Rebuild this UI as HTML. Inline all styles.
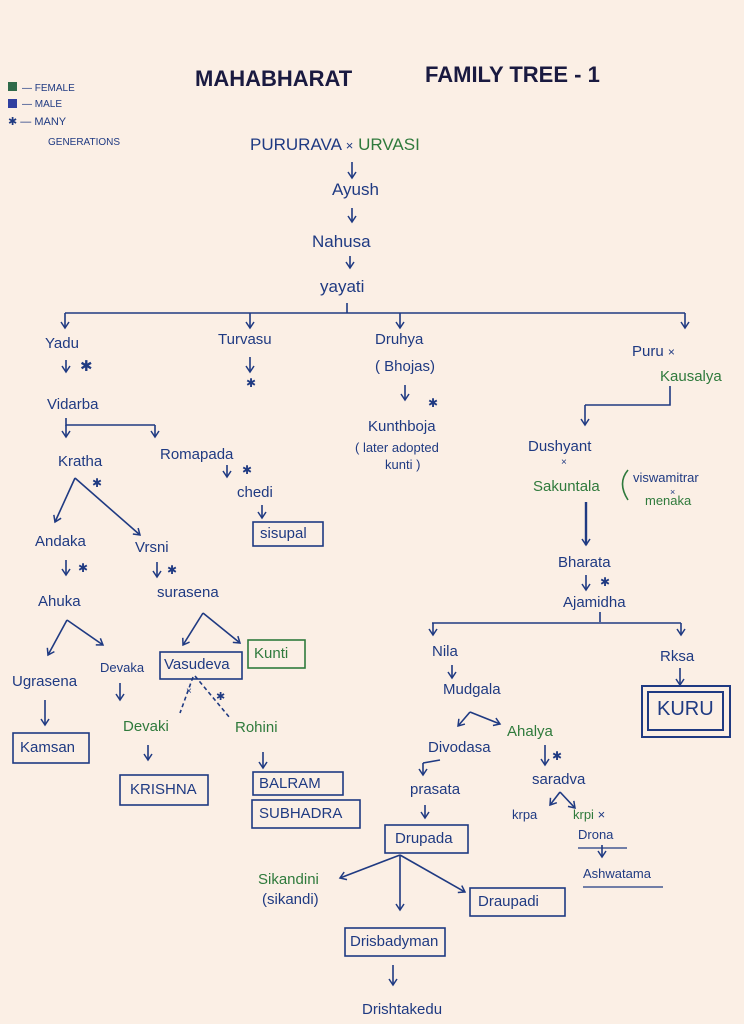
<!DOCTYPE html>
<html><head><meta charset="utf-8"><style>
html,body{margin:0;padding:0}
body{width:744px;height:1024px;background:#fbefe5;position:relative;overflow:hidden;font-family:"Liberation Sans",sans-serif;color:#1f3a82}
.t{position:absolute;white-space:nowrap;font-size:15px;line-height:18px}
.g{color:#2f7a3c}
svg{position:absolute;left:0;top:0}
</style></head><body>
<svg width="744" height="1024" fill="none" stroke="#1f3a82" stroke-width="1.6">
<defs><marker id="a" markerWidth="10" markerHeight="10" refX="7" refY="5" orient="auto" markerUnits="userSpaceOnUse"><path d="M1,1 L7,5 L1,9" stroke="#1f3a82" fill="none" stroke-width="1.5"/></marker></defs>
<rect x="8" y="82" width="9" height="9" fill="#2f6a4a" stroke="none"/>
<rect x="8" y="99" width="9" height="9" fill="#3040a0" stroke="none"/>
<g marker-end="url(#a)">
<path d="M352 162V178"/><path d="M352 208V222"/><path d="M350 256V268"/>
<path d="M65 313V328"/><path d="M250 313V328"/><path d="M400 313V328"/><path d="M685 313V328"/>
<path d="M66 425V437"/><path d="M155 425V437"/>
<path d="M262 505V518"/><path d="M250 357V372"/><path d="M405 385V400"/><path d="M66 360V372"/><path d="M227 465V477"/>
<path d="M585 405V425"/>
<path d="M586 502V545"/>
<path d="M433 623V635"/><path d="M681 623V635"/>
<path d="M452 665V678"/><path d="M680 668V685"/><path d="M602 845V857"/><path d="M425 805V818"/><path d="M393 965V985"/><path d="M120 683V700"/><path d="M148 745V760"/><path d="M263 752V768"/><path d="M45 700V725"/><path d="M66 560V575"/><path d="M157 562V577"/><path d="M586 575V590"/>
<path d="M470 712L458 726"/><path d="M470 712L500 724"/>
<path d="M423 763V775"/>
<path d="M545 745V765"/><path d="M560 792L550 805"/><path d="M560 792L575 808"/>
<path d="M75 478L55 522"/><path d="M75 478L140 535"/>
<path d="M67 620L48 655"/><path d="M67 620L103 645"/>
<path d="M203 613L183 645"/><path d="M203 613L240 643"/>
<path d="M400 855L340 878"/><path d="M400 855V910"/><path d="M400 855L465 892"/>
</g>
<path d="M65 313H685M347 303V313M66 418V425H155M670 386V405H585M586 502V545M600 612V622M432 623H681M440 760L423 763"/>
<path d="M586 502V545" stroke-width="2.4"/>
<path d="M193 677L180 713M195 676L230 718" stroke-dasharray="4 3"/>
<path d="M578 848H627M583 887H663" stroke-width="1.3"/>
<rect x="253" y="522" width="70" height="24"/>
<rect x="13" y="733" width="76" height="30"/>
<rect x="120" y="775" width="88" height="30"/>
<rect x="160" y="652" width="82" height="27"/>
<rect x="248" y="640" width="57" height="28" stroke="#2f7a3c"/>
<rect x="253" y="772" width="90" height="23"/>
<rect x="252" y="800" width="108" height="28"/>
<rect x="385" y="825" width="83" height="28"/>
<rect x="470" y="888" width="95" height="28"/>
<rect x="345" y="928" width="100" height="28"/>
<rect x="642" y="686" width="88" height="51" stroke-width="2"/>
<rect x="648" y="692" width="75" height="38" stroke-width="2"/>
<path d="M628 470Q617 483 628 500" stroke="#2f7a3c"/>
</svg>
<div class="t" style="left:22px;top:80px;font-size:10px">— FEMALE</div>
<div class="t" style="left:22px;top:96px;font-size:10px">— MALE</div>
<div class="t" style="left:8px;top:113px;font-size:11px">✱ — MANY</div>
<div class="t" style="left:48px;top:134px;font-size:10px">GENERATIONS</div>
<div class="t" style="left:195px;top:70px;font-size:22px;font-weight:bold;color:#1a1a40">MAHABHARAT</div>
<div class="t" style="left:425px;top:66px;font-size:22px;font-weight:bold;color:#1a1a40">FAMILY TREE - 1</div>
<div class="t" style="left:250px;top:136px;font-size:17px">PURURAVA <span style="font-size:13px">×</span> <span class="g">URVASI</span></div>
<div class="t" style="left:332px;top:181px;font-size:17px">Ayush</div>
<div class="t" style="left:312px;top:233px;font-size:17px">Nahusa</div>
<div class="t" style="left:320px;top:278px;font-size:17px">yayati</div>
<div class="t" style="left:45px;top:335px">Yadu</div>
<div class="t" style="left:80px;top:358px">✱</div>
<div class="t" style="left:47px;top:396px">Vidarba</div>
<div class="t" style="left:58px;top:453px">Kratha</div>
<div class="t" style="left:92px;top:474px;font-size:12px">✱</div>
<div class="t" style="left:160px;top:446px">Romapada</div>
<div class="t" style="left:242px;top:461px;font-size:12px">✱</div>
<div class="t" style="left:237px;top:484px">chedi</div>
<div class="t" style="left:260px;top:525px">sisupal</div>
<div class="t" style="left:218px;top:331px">Turvasu</div>
<div class="t" style="left:246px;top:374px;font-size:12px">✱</div>
<div class="t" style="left:375px;top:331px">Druhya</div>
<div class="t" style="left:375px;top:358px">( Bhojas)</div>
<div class="t" style="left:428px;top:394px;font-size:12px">✱</div>
<div class="t" style="left:368px;top:418px">Kunthboja</div>
<div class="t" style="left:355px;top:439px;font-size:13px">( later adopted</div>
<div class="t" style="left:385px;top:456px;font-size:13px">kunti )</div>
<div class="t" style="left:632px;top:343px">Puru <span style="font-size:12px">×</span></div>
<div class="t g" style="left:660px;top:368px">Kausalya</div>
<div class="t" style="left:528px;top:438px">Dushyant</div>
<div class="t" style="left:561px;top:454px;font-size:10px">×</div>
<div class="t g" style="left:533px;top:478px">Sakuntala</div>
<div class="t" style="left:633px;top:469px;font-size:13px">viswamitrar</div>
<div class="t" style="left:670px;top:483px;font-size:9px">×</div>
<div class="t g" style="left:645px;top:492px;font-size:13px">menaka</div>
<div class="t" style="left:558px;top:554px">Bharata</div>
<div class="t" style="left:600px;top:573px;font-size:12px">✱</div>
<div class="t" style="left:563px;top:594px">Ajamidha</div>
<div class="t" style="left:432px;top:643px">Nila</div>
<div class="t" style="left:443px;top:681px">Mudgala</div>
<div class="t g" style="left:507px;top:723px">Ahalya</div>
<div class="t" style="left:428px;top:739px">Divodasa</div>
<div class="t" style="left:552px;top:747px;font-size:12px">✱</div>
<div class="t" style="left:532px;top:771px">saradva</div>
<div class="t" style="left:410px;top:781px">prasata</div>
<div class="t" style="left:512px;top:806px;font-size:13px">krpa</div>
<div class="t" style="left:573px;top:806px;font-size:13px"><span class="g">krpi</span> ×</div>
<div class="t" style="left:578px;top:826px;font-size:13px">Drona</div>
<div class="t" style="left:583px;top:865px;font-size:13px">Ashwatama</div>
<div class="t" style="left:395px;top:830px">Drupada</div>
<div class="t g" style="left:258px;top:871px">Sikandini</div>
<div class="t" style="left:262px;top:891px">(sikandi)</div>
<div class="t" style="left:478px;top:893px">Draupadi</div>
<div class="t" style="left:350px;top:933px">Drisbadyman</div>
<div class="t" style="left:362px;top:1001px">Drishtakedu</div>
<div class="t" style="left:660px;top:648px">Rksa</div>
<div class="t" style="left:657px;top:700px;font-size:20px">KURU</div>
<div class="t" style="left:35px;top:533px">Andaka</div>
<div class="t" style="left:78px;top:559px;font-size:12px">✱</div>
<div class="t" style="left:38px;top:593px">Ahuka</div>
<div class="t" style="left:135px;top:539px">Vrsni</div>
<div class="t" style="left:167px;top:561px;font-size:12px">✱</div>
<div class="t" style="left:157px;top:584px">surasena</div>
<div class="t" style="left:12px;top:673px">Ugrasena</div>
<div class="t" style="left:100px;top:659px;font-size:13px">Devaka</div>
<div class="t" style="left:20px;top:739px">Kamsan</div>
<div class="t" style="left:164px;top:656px">Vasudeva</div>
<div class="t g" style="left:254px;top:645px">Kunti</div>
<div class="t" style="left:186px;top:683px;font-size:10px">×</div>
<div class="t" style="left:216px;top:688px;font-size:11px">✱</div>
<div class="t g" style="left:123px;top:718px">Devaki</div>
<div class="t g" style="left:235px;top:719px">Rohini</div>
<div class="t" style="left:130px;top:781px">KRISHNA</div>
<div class="t" style="left:259px;top:775px">BALRAM</div>
<div class="t" style="left:259px;top:805px">SUBHADRA</div>
</body></html>
